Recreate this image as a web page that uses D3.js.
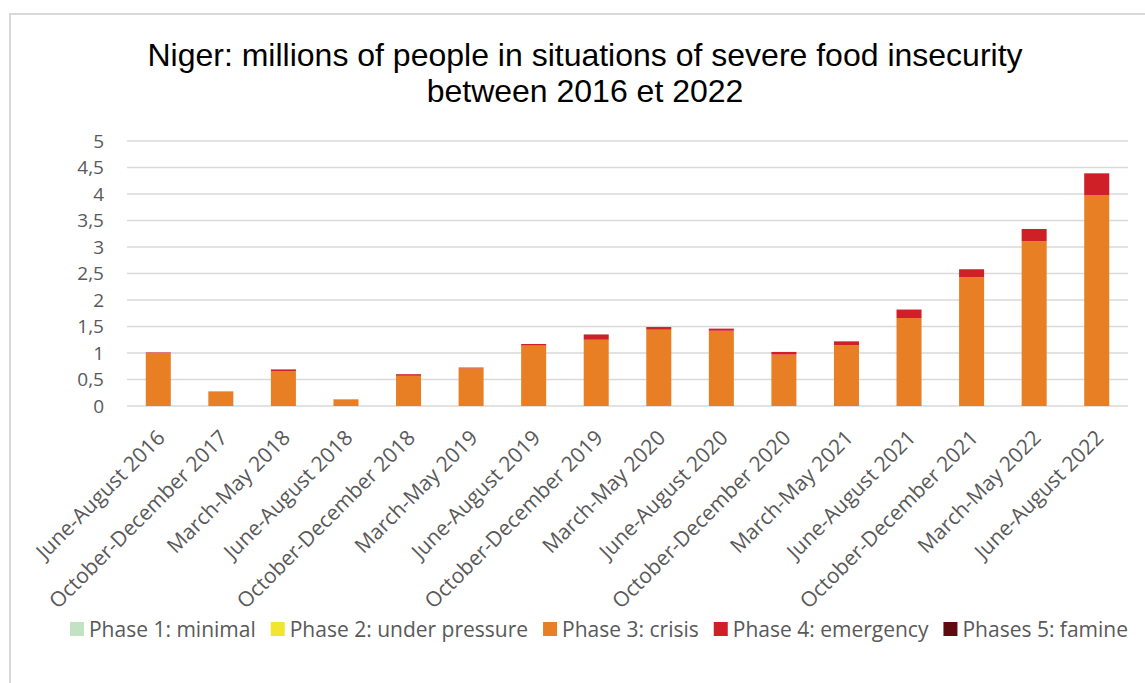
<!DOCTYPE html>
<html>
<head>
<meta charset="utf-8">
<script src="https://cdnjs.cloudflare.com/ajax/libs/d3/7.8.5/d3.min.js"></script>
<style>
  body { margin: 0; background: #fff; }
  svg { display: block; }
</style>
</head>
<body>
<div class="chart"></div>
<script>
// data (millions of people)
var periods = [
  "June-August 2016", "October-December 2017", "March-May 2018", "June-August 2018",
  "October-December 2018", "March-May 2019", "June-August 2019", "October-December 2019",
  "March-May 2020", "June-August 2020", "October-December 2020", "March-May 2021",
  "June-August 2021", "October-December 2021", "March-May 2022", "June-August 2022"
];
var phase1 = [0, 0, 0, 0, 0, 0, 0, 0, 0, 0, 0, 0, 0, 0, 0, 0];
var phase2 = [0, 0, 0, 0, 0, 0, 0, 0, 0, 0, 0, 0, 0, 0, 0, 0];
var phase3 = [1.00, 0.27, 0.66, 0.12, 0.57, 0.71, 1.14, 1.25, 1.44, 1.42, 0.97, 1.15, 1.66, 2.43, 3.11, 3.98];
var phase4 = [0.01, 0.005, 0.03, 0.005, 0.03, 0.015, 0.03, 0.10, 0.05, 0.04, 0.05, 0.07, 0.16, 0.15, 0.23, 0.41];
var phase5 = [0, 0, 0, 0, 0, 0, 0, 0, 0, 0, 0, 0, 0, 0, 0, 0];
var yTicks = [0, 0.5, 1, 1.5, 2, 2.5, 3, 3.5, 4, 4.5, 5];

var seriesNames = ["Phase 1: minimal", "Phase 2: under pressure", "Phase 3: crisis", "Phase 4: emergency", "Phases 5: famine"];
var seriesColors = ["#c3e2c3", "#f2e530", "#e97f25", "#cf2027", "#600a10"];

var svgWidth = 1145;
var svgHeight = 683;

var margin = { top: 141, right: 17, bottom: 277, left: 127 };
var width = svgWidth - margin.left - margin.right;
var height = svgHeight - margin.top - margin.bottom;

var labelFont = "'Open Sans', Lato, sans-serif";

var svg = d3.select(".chart")
  .append("svg")
  .attr("width", svgWidth)
  .attr("height", svgHeight);

// chart frame (only top and left edges fall inside the picture)
svg.append("rect")
  .attr("x", 10)
  .attr("y", 14)
  .attr("width", svgWidth + 20)
  .attr("height", svgHeight + 20)
  .attr("fill", "none")
  .attr("stroke", "#d9d9d9")
  .attr("stroke-width", 2);

// title
var title = svg.append("text")
  .attr("text-anchor", "middle")
  .style("font-family", "'Liberation Sans', Arial, sans-serif")
  .style("font-size", "32px")
  .attr("fill", "#000");
title.append("tspan").attr("x", 585).attr("y", 66)
  .text("Niger: millions of people in situations of severe food insecurity");
title.append("tspan").attr("x", 585).attr("y", 102)
  .text("between 2016 et 2022");

var chartGroup = svg.append("g")
  .attr("transform", `translate(${margin.left}, ${margin.top})`);

// build rows for the stack
var keys = ["p1", "p2", "p3", "p4", "p5"];
var rows = periods.map(function (p, i) {
  return { period: p, p1: phase1[i], p2: phase2[i], p3: phase3[i], p4: phase4[i], p5: phase5[i] };
});
var stacked = d3.stack().keys(keys)(rows);

var xScale = d3.scaleBand()
  .domain(periods)
  .range([0, width])
  .paddingInner(0.6)
  .paddingOuter(0.3);

var yScale = d3.scaleLinear()
  .domain([0, 5])
  .range([height, 0]);

// gridlines
chartGroup.append("g")
  .selectAll("line")
  .data(yTicks)
  .enter()
  .append("line")
  .attr("x1", 0)
  .attr("x2", width)
  .attr("y1", d => yScale(d))
  .attr("y2", d => yScale(d))
  .attr("stroke", "#d9d9d9")
  .attr("stroke-width", 1.5);

// y axis labels
var leftAxis = d3.axisLeft(yScale)
  .tickValues(yTicks)
  .tickSize(0)
  .tickPadding(23)
  .tickFormat(d => String(d).replace(".", ","));

var yAxis = chartGroup.append("g").call(leftAxis);
yAxis.select(".domain").remove();
yAxis.selectAll("text")
  .style("font-family", labelFont)
  .style("font-size", "19px")
  .attr("fill", "#595959");

// stacked bars
chartGroup.append("g")
  .selectAll("g")
  .data(stacked)
  .enter()
  .append("g")
  .attr("fill", (d, i) => seriesColors[i])
  .selectAll("rect")
  .data(d => d)
  .enter()
  .append("rect")
  .attr("x", d => xScale(d.data.period))
  .attr("y", d => yScale(d[1]))
  .attr("width", xScale.bandwidth())
  .attr("height", d => yScale(d[0]) - yScale(d[1]));

// x axis labels, rotated
var bottomAxis = d3.axisBottom(xScale).tickSize(0).tickPadding(0);
var xAxis = chartGroup.append("g")
  .attr("transform", `translate(0, ${height})`)
  .call(bottomAxis);
xAxis.select(".domain").remove();
xAxis.selectAll("text")
  .style("font-family", labelFont)
  .style("font-size", "21px")
  .attr("fill", "#595959")
  .attr("text-anchor", "end")
  .attr("dy", "0")
  .attr("y", 0)
  .attr("transform", "translate(8, 33) rotate(-45)");

// legend
var legend = svg.append("g");
var items = legend.selectAll("g")
  .data(seriesNames)
  .enter()
  .append("g");
items.append("rect")
  .attr("width", 14)
  .attr("height", 14)
  .attr("y", 622)
  .attr("fill", (d, i) => seriesColors[i]);
items.append("text")
  .attr("x", 19)
  .attr("y", 637)
  .style("font-family", labelFont)
  .style("font-size", "21px")
  .attr("fill", "#595959")
  .text(d => d);

// place legend items side by side, centred
var offsets = [];
var total = 0;
items.each(function () {
  var w = 19 + this.querySelector("text").getComputedTextLength();
  offsets.push(total);
  total += w + 15;
});
total -= 15;
var startX = 599 - total / 2;
items.attr("transform", (d, i) => `translate(${startX + offsets[i]}, 0)`);
</script>
</body>
</html>
